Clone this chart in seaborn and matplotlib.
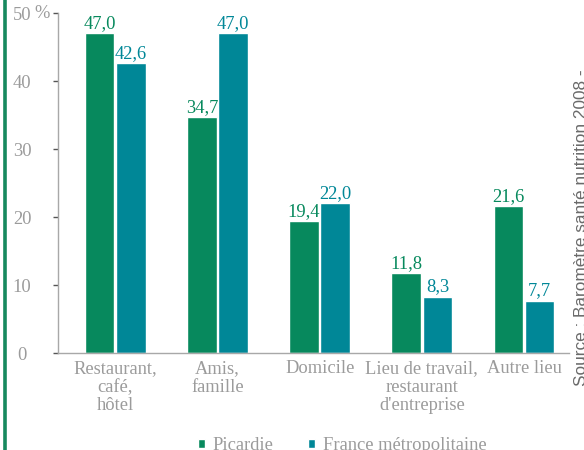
import matplotlib
matplotlib.use("Agg")
import matplotlib.pyplot as plt
from matplotlib.lines import Line2D
import pandas as pd
import seaborn as sns

# Lieux de consommation, en %
lieux = ["Restaurant,\ncafé,\nhôtel", "Amis,\nfamille", "Domicile",
         "Lieu de travail,\nrestaurant\nd'entreprise", "Autre lieu"]
picardie = [47.0, 34.7, 19.4, 11.8, 21.6]
france = [42.6, 47.0, 22.0, 8.3, 7.7]
zones = ["Picardie", "France métropolitaine"]
y_ticks = [0, 10, 20, 30, 40, 50]

GREEN = "#07895D"
TEAL = "#008797"
GREY_TXT = "#9b9b9b"
GREY_AX = "#a8a8a8"
FS = 13.3

df = pd.DataFrame({
    "lieu": lieux * 2,
    "pct": picardie + france,
    "zone": [zones[0]] * len(lieux) + [zones[1]] * len(lieux),
})

sns.set_style("white")
plt.rcParams["font.family"] = ["Liberation Serif", "DejaVu Serif"]

W, H = 584, 450
fig = plt.figure(figsize=(W / 100, H / 100), dpi=100, facecolor="white")
ax = fig.add_axes([58 / W, 1 - 353 / H, (569 - 58) / W, (353 - 13) / H])

sns.barplot(data=df, x="lieu", y="pct", hue="zone", palette=[GREEN, TEAL],
            width=0.61, gap=0.05, saturation=1, ax=ax, errorbar=None)

handles, labels = ax.get_legend_handles_labels()
ax.get_legend().remove()

for cont, vals, col in zip(ax.containers, [picardie, france], [GREEN, TEAL]):
    ax.bar_label(cont, labels=[f"{v:.1f}".replace(".", ",") for v in vals],
                 padding=0.8, color=col, fontsize=FS)

ax.set_xlim(-0.56, 4.44)
ax.set_ylim(0, 50)
ax.set_yticks(y_ticks)
ax.set_yticklabels([str(t) for t in y_ticks])
ax.set_xlabel("")
ax.set_ylabel("")

for s in ["top", "right"]:
    ax.spines[s].set_visible(False)
for s in ["left", "bottom"]:
    ax.spines[s].set_color(GREY_AX)
    ax.spines[s].set_linewidth(1.0)

ax.tick_params(axis="y", length=3.6, width=1.0, color="#555555",
               labelcolor=GREY_TXT, labelsize=FS, pad=22.3, left=True)
for lab in ax.get_yticklabels():
    lab.set_horizontalalignment("center")
ax.tick_params(axis="x", length=0, labelcolor=GREY_TXT, labelsize=FS, pad=5)
for lab in ax.get_xticklabels():
    lab.set_linespacing(1.13)

# unit shown after the top tick value
ax.annotate("%", xy=(0, 50), xycoords=("axes fraction", "data"),
            xytext=(-6, 0), textcoords="offset points",
            ha="right", va="center", color=GREY_TXT, fontsize=FS)

fig.legend(handles, labels, loc="center", bbox_to_anchor=(342 / W, 1 - 446 / H),
           ncol=2, frameon=False, fontsize=FS, labelcolor=GREY_TXT,
           handlelength=0.38, handleheight=0.38, handletextpad=0.4,
           columnspacing=1.9, borderaxespad=0, borderpad=0)

# source note, rotated along the right edge
fig.text(574 / W, 1 - 386 / H, "Source : Baromètre santé nutrition 2008 -",
         rotation=90, ha="left", va="bottom", fontsize=12.4,
         family=["Liberation Sans", "DejaVu Sans"], color="#6a6a6a")

# green rule along the left edge
fig.add_artist(Line2D([4.5 / W, 4.5 / W], [0, 1], transform=fig.transFigure,
                      color="#17895E", linewidth=2.6))

fig.savefig("out.png", dpi=100, facecolor="white")
